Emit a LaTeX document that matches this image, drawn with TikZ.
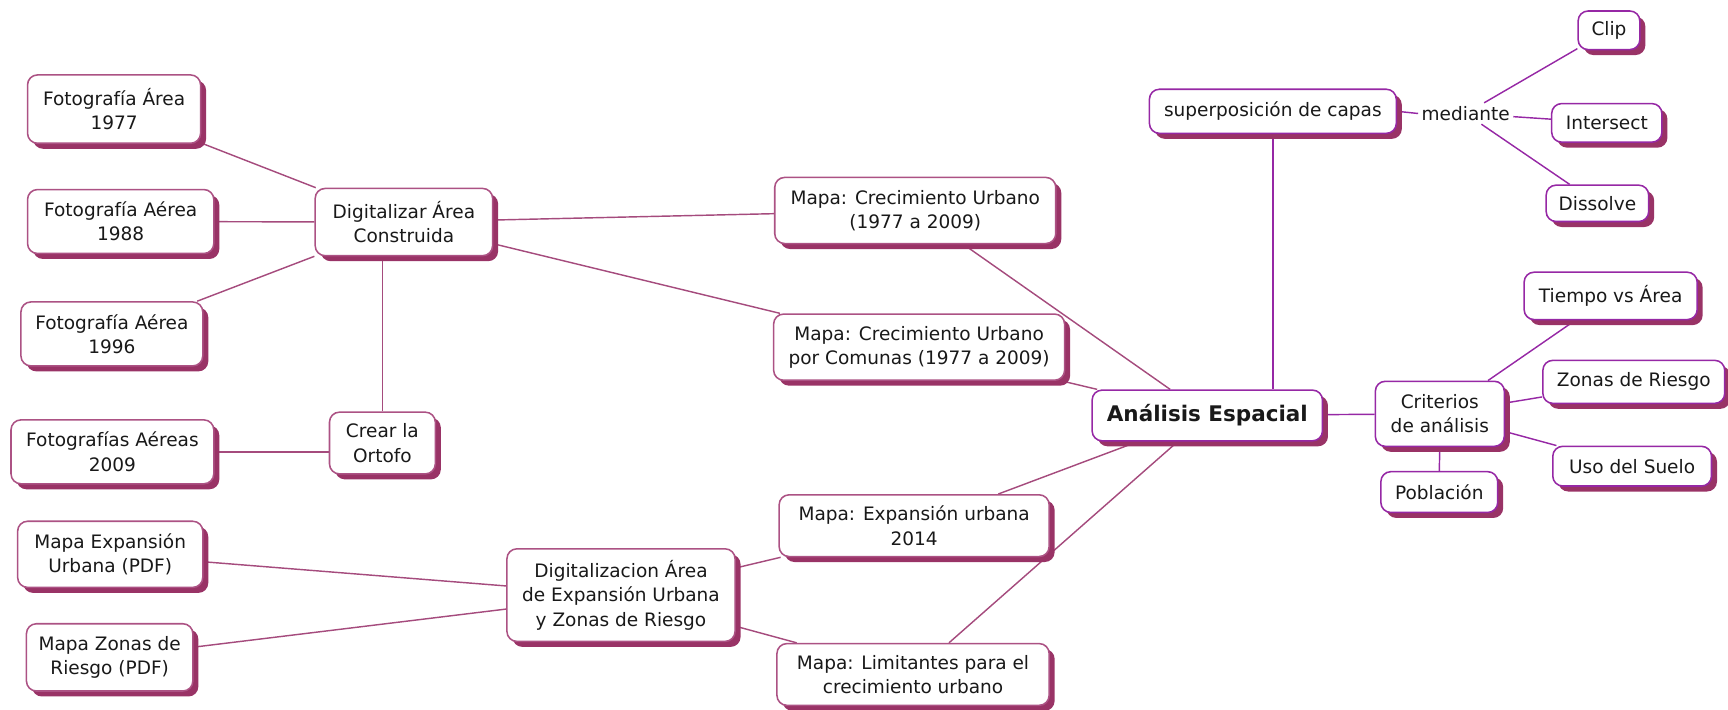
\documentclass[tikz,border=0pt]{standalone}
\usepackage{fontspec}
\setmainfont{DejaVu Sans}
\usetikzlibrary{shadows,backgrounds}
\definecolor{rose}{RGB}{172,82,132}
\definecolor{roseline}{RGB}{165,75,125}
\definecolor{purp}{RGB}{150,40,165}
\definecolor{shad}{RGB}{153,51,102}
\definecolor{txt}{RGB}{25,25,25}
\begin{document}
\begin{tikzpicture}[x=1pt,y=-1pt,
  box/.style={draw=rose, line width=1.4pt, rounded corners=9pt, fill=white, align=center, inner sep=0pt, text=txt,
    font=\fontsize{16.8}{22}\selectfont,
    drop shadow={shadow xshift=5pt, shadow yshift=-5pt, fill=shad, opacity=1}},
  pbox/.style={box, draw=purp},
  wh/.style 2 args={minimum width=#1pt, minimum height=#2pt},
  lnk/.style={draw=roseline, line width=1.3pt},
  plnk/.style={draw=purp, line width=1.3pt}]
\useasboundingbox (0,0) rectangle (1568,644);

% left cluster
\node[box, wh={157}{62}] (f77) at (103.5,99) {Fotografía Área\\1977};
\node[box, wh={169}{58}] (f88) at (109.5,201) {Fotografía Aérea\\1988};
\node[box, wh={165}{58}] (f96) at (101.5,303) {Fotografía Aérea\\1996};
\node[box, wh={161}{61}] (dac) at (366.5,201.5) {Digitalizar Área\\Construida};
\node[box, wh={96}{56}] (crear) at (347,402) {Crear la\\Ortofo};
\node[box, wh={184}{58}] (f09) at (102,410) {Fotografías Aéreas\\2009};
\node[box, wh={168}{60}] (meu) at (100,503) {Mapa Expansión\\Urbana (PDF)};
\node[box, wh={151}{61}] (mzr) at (99.5,596.5) {Mapa Zonas de\\Riesgo (PDF)};
\node[box, wh={207}{84}] (dae) at (563.5,540) {Digitalizacion Área\\de Expansión Urbana\\y Zonas de Riesgo};

% maps
\node[box, wh={255}{60}] (mcu) at (830.5,191) {Mapa: Crecimiento Urbano\\(1977 a 2009)};
\node[box, wh={264}{60}] (mcuc) at (834,315) {Mapa: Crecimiento Urbano\\por Comunas (1977 a 2009)};
\node[box, wh={245}{56}] (me14) at (829.5,477) {Mapa: Expansión urbana\\2014};
\node[box, wh={247}{56}] (mlc) at (828.5,612) {Mapa: Limitantes para el\\crecimiento urbano};

% centre
\node[pbox, wh={209}{46}, font=\bfseries\fontsize{19.5}{22}\selectfont] (ae) at (1095.5,377) {Análisis Espacial};

% right cluster
\node[pbox, wh={224}{40}] (sc) at (1155,101) {superposición de capas};
\node[text=txt, font=\fontsize{16.8}{22}\selectfont, inner sep=3pt] (med) at (1330,103) {mediante};
\node[pbox, wh={56}{35}] (clip) at (1460,27.5) {Clip};
\node[pbox, wh={100}{35}] (inter) at (1458,111.5) {Intersect};
\node[pbox, wh={93}{33}] (diss) at (1449.5,184.5) {Dissolve};
\node[pbox, wh={117}{59}] (ca) at (1306.5,375.5) {Criterios\\de análisis};
\node[pbox, wh={157}{43}] (tva) at (1461.5,268.5) {Tiempo vs Área};
\node[pbox, wh={165}{39}] (zr) at (1482.5,346.5) {Zonas de Riesgo};
\node[pbox, wh={144}{36}] (us) at (1481,423) {Uso del Suelo};
\node[pbox, wh={106}{37}] (pob) at (1306,446.5) {Población};

\begin{scope}[on background layer]
\draw[lnk] (f77) -- (dac);
\draw[lnk] (f88) -- (dac);
\draw[lnk] (f96) -- (dac);
\draw[lnk] (crear.north) -- (crear.north |- dac.south);
\draw[lnk] (f09.east) -- (f09.east -| crear.west);
\draw[lnk] (dac) -- (mcu);
\draw[lnk] (dac) -- (mcuc);
\draw[lnk] (mcu) -- (ae);
\draw[lnk] (mcuc) -- (ae);
\draw[lnk] (me14) -- (ae);
\draw[lnk] (mlc) -- (ae);
\draw[lnk] (dae) -- (me14);
\draw[lnk] (dae) -- (mlc);
\draw[lnk] (meu) -- (dae);
\draw[lnk] (mzr) -- (dae);
\draw[plnk] (sc.south) -- (sc.south |- ae.north);
\draw[plnk] (sc.east) -- (med.west);
\draw[plnk] (med) -- (clip);
\draw[plnk] (med) -- (inter);
\draw[plnk] (med) -- (diss);
\draw[plnk] (ae) -- (ca);
\draw[plnk] (ca) -- (tva);
\draw[plnk] (ca) -- (zr);
\draw[plnk] (ca) -- (us);
\draw[plnk] (ca.south) -- (pob.north);
\end{scope}
\end{tikzpicture}
\end{document}
